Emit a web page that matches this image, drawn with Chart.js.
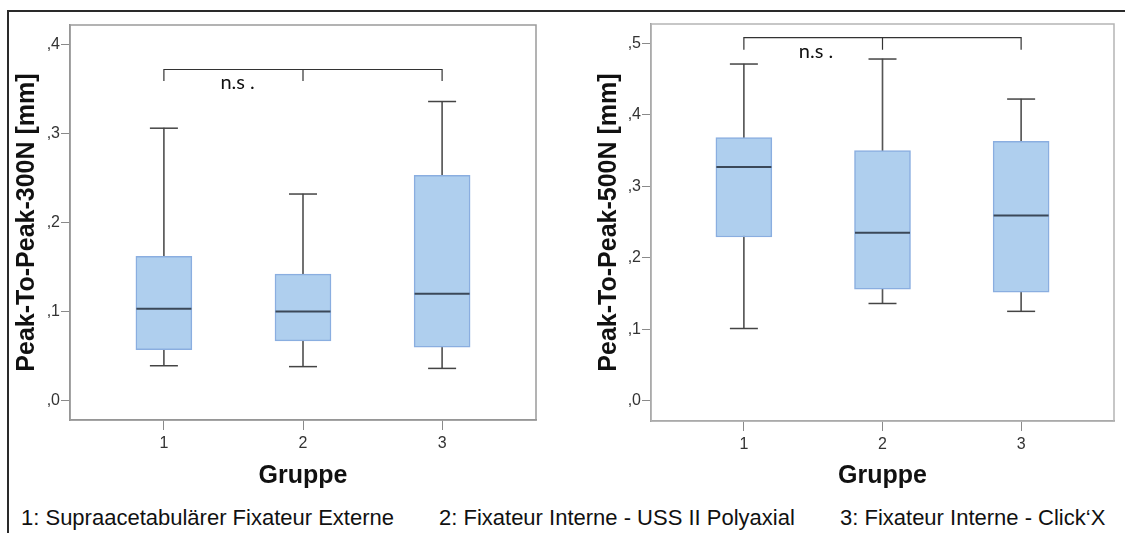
<!DOCTYPE html>
<html><head><meta charset="utf-8">
<script src="https://cdn.jsdelivr.net/npm/chart.js@4.4.1/dist/chart.umd.min.js"></script>
<style>
html,body{margin:0;padding:0;background:#fff;width:1125px;height:533px;overflow:hidden;}
#frame{position:absolute;left:7px;top:10px;width:1130px;height:540px;border-left:2px solid #2a2a2a;border-top:2px solid #2a2a2a;}
canvas{position:absolute;}
#c1{left:8px;top:12px;}
#c2{left:568px;top:12px;}
.cap{position:absolute;top:505px;font:22px "Liberation Sans",Arial,sans-serif;line-height:25px;color:#111;white-space:nowrap;}
</style></head><body>
<div id="frame"></div>
<canvas id="c1" width="552" height="490"></canvas>
<canvas id="c2" width="557" height="490"></canvas>
<div class="cap" style="left:21px">1: Supraacetabulärer Fixateur Externe</div>
<div class="cap" style="left:439px">2: Fixateur Interne - USS II Polyaxial</div>
<div class="cap" style="left:840px">3: Fixateur Interne - Click‘X</div>
<script>
// ---- data ----
const groups = [1, 2, 3];
const groupLabels = ['1', '2', '3'];
const xTitle = 'Gruppe';

const yTicks300 = [0, 0.1, 0.2, 0.3, 0.4];
const yTickLabels300 = [',0', ',1', ',2', ',3', ',4'];
const yTitle300 = 'Peak-To-Peak-300N [mm]';
const min300 = [0.039, 0.038, 0.036];
const q1_300 = [0.057, 0.067, 0.060];
const med300 = [0.103, 0.100, 0.120];
const q3_300 = [0.162, 0.142, 0.253];
const max300 = [0.306, 0.232, 0.336];
const bracket300 = [0.359, 0.372];   // [tick end, bar level]
const nsPos300 = [1.53, 0.357];

const yTicks500 = [0, 0.1, 0.2, 0.3, 0.4, 0.5];
const yTickLabels500 = [',0', ',1', ',2', ',3', ',4', ',5'];
const yTitle500 = 'Peak-To-Peak-500N [mm]';
const min500 = [0.101, 0.136, 0.125];
const q1_500 = [0.229, 0.156, 0.152];
const med500 = [0.327, 0.235, 0.259];
const q3_500 = [0.368, 0.350, 0.363];
const max500 = [0.471, 0.478, 0.422];
const bracket500 = [0.491, 0.508];
const nsPos500 = [1.52, 0.488];

const nsText = 'n.s .';

// ---- styling ----
const BOX_FILL = '#AFCFEE', BOX_EDGE = '#8AAEE0', WHISK = '#555555', MED = '#3b4858';
const AXIS = '#8a8a8a', TICKTXT = '#333333';

const plotDeco = {
  id: 'plotDeco',
  afterDraw(chart, args, o) {
    const {ctx, chartArea: a, scales} = chart;
    ctx.save();
    ctx.strokeStyle = o.frameColor; ctx.lineWidth = 1.5;
    ctx.strokeRect(a.left, a.top, a.right - a.left, a.bottom - a.top);
    ctx.fillStyle = '#111';
    ctx.font = '20px Lato, "Open Sans", sans-serif';
    ctx.textAlign = 'center'; ctx.textBaseline = 'middle';
    ctx.fillText(o.text, scales.x.getPixelForValue(o.pos[0]), scales.y.getPixelForValue(o.pos[1]));
    ctx.restore();
  }
};

function makeChart(id, p) {
  const pts = arr => groups.map((g, i) => ({x: g, y: arr[i]}));
  const rng = (a, b) => groups.map((g, i) => ({x: g, y: [a[i], b[i]]}));
  const br = p.bracket;
  const bracketData = [
    {x: groups[0], y: br[0]}, {x: groups[0], y: br[1]},
    {x: groups[1], y: br[1]}, {x: groups[1], y: br[0]}, {x: groups[1], y: br[1]},
    {x: groups[2], y: br[1]}, {x: groups[2], y: br[0]}
  ];
  new Chart(document.getElementById(id), {
    type: 'bar',
    data: {
      datasets: [
        {type: 'bar', data: rng(p.min, p.max), backgroundColor: WHISK, borderWidth: 0,
         barThickness: 1, grouped: false, order: 5},
        {type: 'bar', data: rng(p.q1, p.q3), backgroundColor: BOX_FILL, borderColor: BOX_EDGE,
         borderWidth: 1.5, borderSkipped: false, barThickness: p.boxW, grouped: false, order: 4},
        {type: 'line', data: pts(p.min), showLine: false, pointStyle: 'line', pointRadius: p.boxW / 4,
         pointBorderColor: '#444', pointBorderWidth: 1.5, order: 3},
        {type: 'line', data: pts(p.max), showLine: false, pointStyle: 'line', pointRadius: p.boxW / 4,
         pointBorderColor: '#444', pointBorderWidth: 1.5, order: 3},
        {type: 'line', data: pts(p.med), showLine: false, pointStyle: 'line', pointRadius: p.boxW / 2 - 0.5,
         pointBorderColor: MED, pointBorderWidth: 2, order: 2},
        {type: 'line', data: bracketData, borderColor: '#333', borderWidth: 1.2, pointRadius: 0,
         tension: 0, fill: false, order: 1}
      ]
    },
    options: {
      responsive: false, animation: false, devicePixelRatio: 1,
      layout: {autoPadding: false, padding: {left: 0, top: p.padTop, right: p.padRight, bottom: 0}},
      plugins: {legend: {display: false}, tooltip: {enabled: false},
                plotDeco: {frameColor: p.frameColor, text: nsText, pos: p.ns}},
      scales: {
        x: {
          type: 'linear', min: p.xMin, max: p.xMax, offset: false,
          afterBuildTicks: s => { s.ticks = groups.map(v => ({value: v})); },
          afterFit: s => { s.height = p.xAxisH; s.paddingLeft = 0; s.paddingRight = 0; },
          ticks: {callback: (v, i) => groupLabels[i], color: TICKTXT, padding: 4,
                  font: {family: '"Liberation Sans", Arial, sans-serif', size: 16}},
          grid: {offset: false, drawOnChartArea: false, drawTicks: true, tickLength: 10, color: AXIS},
          border: {display: true, color: AXIS, width: 1.5},
          title: {display: true, text: xTitle, color: '#111', padding: {top: 0, bottom: 11},
                  font: {family: '"Liberation Sans", Arial, sans-serif', size: 25, weight: 'bold'}}
        },
        y: {
          type: 'linear', min: p.yMin, max: p.yMax,
          afterBuildTicks: s => { s.ticks = p.yTicks.map(v => ({value: v})); },
          afterFit: s => { s.width = p.yAxisW; s.paddingTop = 0; s.paddingBottom = 0; },
          ticks: {callback: (v, i) => p.yTickLabels[i], color: TICKTXT, padding: 1,
                  font: {family: '"Liberation Sans", Arial, sans-serif', size: 16}},
          grid: {drawOnChartArea: false, drawTicks: true, tickLength: 9, color: AXIS},
          border: {display: true, color: AXIS, width: 1.5},
          title: {display: true, text: p.yTitle, color: '#111', padding: {top: p.yTitlePad, bottom: 0},
                  font: {family: '"Liberation Sans", Arial, sans-serif', size: 25, weight: 'bold'}}
        }
      }
    },
    plugins: [plotDeco]
  });
}

makeChart('c1', {
  min: min300, q1: q1_300, med: med300, q3: q3_300, max: max300,
  bracket: bracket300, ns: nsPos300, yTicks: yTicks300, yTickLabels: yTickLabels300, yTitle: yTitle300,
  yMin: -0.022, yMax: 0.422, xMin: 0.325, xMax: 3.675,
  boxW: 56, padTop: 13, padRight: 24, xAxisH: 82, yAxisW: 62, yTitlePad: 4, frameColor: '#9a9a9a'
});
makeChart('c2', {
  min: min500, q1: q1_500, med: med500, q3: q3_500, max: max500,
  bracket: bracket500, ns: nsPos500, yTicks: yTicks500, yTickLabels: yTickLabels500, yTitle: yTitle500,
  yMin: -0.0284, yMax: 0.527, xMin: 0.33, xMax: 3.67,
  boxW: 56, padTop: 12, padRight: 11, xAxisH: 81, yAxisW: 83, yTitlePad: 26, frameColor: '#b5b5b5'
});
</script>
</body></html>
